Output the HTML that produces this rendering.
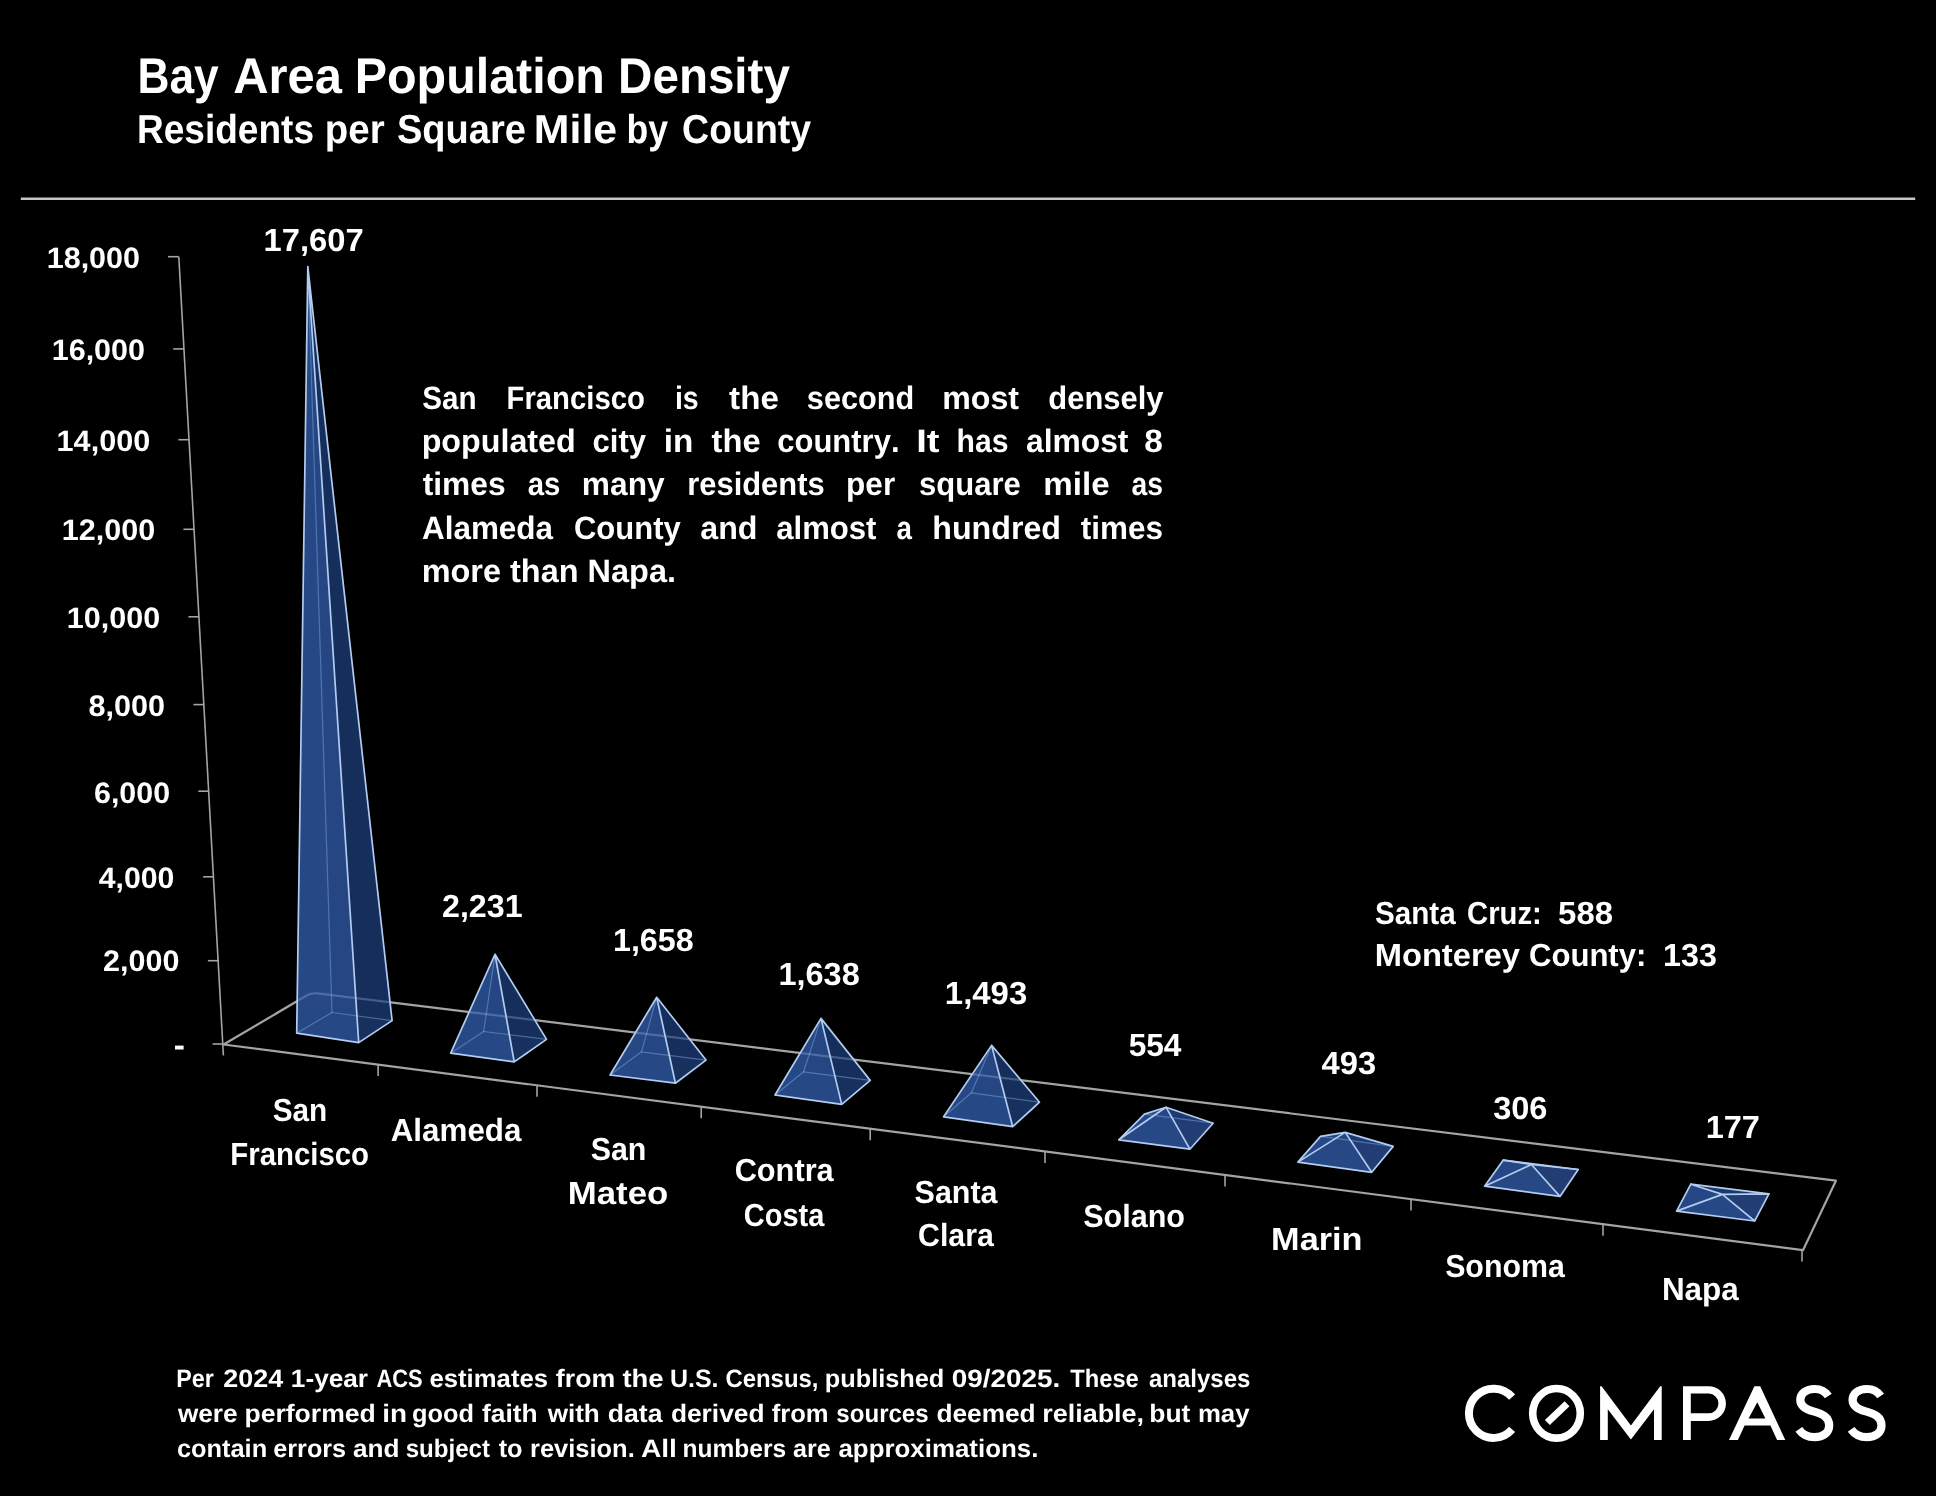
<!DOCTYPE html>
<html><head><meta charset="utf-8"><title>Bay Area Population Density</title>
<style>
html,body{margin:0;padding:0;background:#000;}
body{width:1936px;height:1496px;overflow:hidden;}
svg{display:block;}
text{font-family:"Liberation Sans",sans-serif;font-weight:bold;font-kerning:none;text-rendering:geometricPrecision;}
</style></head><body>
<svg width="1936" height="1496" viewBox="0 0 1936 1496">
<defs><filter id="soft" x="0" y="0" width="1936" height="1496" filterUnits="userSpaceOnUse"><feGaussianBlur stdDeviation="0.55"/></filter></defs>
<rect width="1936" height="1496" fill="#000"/>
<g filter="url(#soft)">
<text transform="translate(137.54,93.00) scale(0.8853,1)" font-size="50" fill="#fff">Bay</text>
<text transform="translate(233.18,93.00) scale(0.9777,1)" font-size="50" fill="#fff">Area</text>
<text transform="translate(354.76,93.00) scale(0.9680,1)" font-size="50" fill="#fff">Population</text>
<text transform="translate(618.12,93.00) scale(0.9508,1)" font-size="50" fill="#fff">Density</text>
<text transform="translate(137.02,143.20) scale(0.9144,1)" font-size="40.5" fill="#fff">Residents</text>
<text transform="translate(324.77,143.20) scale(0.9491,1)" font-size="40.5" fill="#fff">per</text>
<text transform="translate(396.90,143.20) scale(0.9395,1)" font-size="40.5" fill="#fff">Square</text>
<text transform="translate(533.83,143.20) scale(1.0580,1)" font-size="40.5" fill="#fff">Mile</text>
<text transform="translate(626.45,143.20) scale(0.8789,1)" font-size="40.5" fill="#fff">by</text>
<text transform="translate(682.06,143.20) scale(0.9259,1)" font-size="40.5" fill="#fff">County</text>
<line x1="20.8" y1="198.8" x2="1915.2" y2="198.8" stroke="#c6c6c6" stroke-width="2.4"/>
<line x1="178.8" y1="256.7" x2="223.4" y2="1055.5" stroke="#a4a4a4" stroke-width="1.6"/>
<line x1="168.0" y1="256.7" x2="178.8" y2="256.7" stroke="#a4a4a4" stroke-width="1.6"/>
<line x1="173.2" y1="348.9" x2="184.0" y2="348.9" stroke="#a4a4a4" stroke-width="1.6"/>
<line x1="178.4" y1="439.7" x2="189.2" y2="439.7" stroke="#a4a4a4" stroke-width="1.6"/>
<line x1="183.4" y1="529.3" x2="194.2" y2="529.3" stroke="#a4a4a4" stroke-width="1.6"/>
<line x1="188.4" y1="616.8" x2="199.2" y2="616.8" stroke="#a4a4a4" stroke-width="1.6"/>
<line x1="193.4" y1="704.6" x2="204.2" y2="704.6" stroke="#a4a4a4" stroke-width="1.6"/>
<line x1="198.3" y1="791.2" x2="209.1" y2="791.2" stroke="#a4a4a4" stroke-width="1.6"/>
<line x1="203.1" y1="876.8" x2="213.9" y2="876.8" stroke="#a4a4a4" stroke-width="1.6"/>
<line x1="207.9" y1="960.7" x2="218.7" y2="960.7" stroke="#a4a4a4" stroke-width="1.6"/>
<line x1="212.6" y1="1044.0" x2="223.4" y2="1044.0" stroke="#a4a4a4" stroke-width="1.6"/>
<text transform="translate(46.68,268.30) scale(1.0314,1)" font-size="29.6" fill="#fff">18,000</text>
<text transform="translate(51.68,360.10) scale(1.0314,1)" font-size="29.6" fill="#fff">16,000</text>
<text transform="translate(56.57,450.80) scale(1.0348,1)" font-size="29.6" fill="#fff">14,000</text>
<text transform="translate(61.77,540.10) scale(1.0325,1)" font-size="29.6" fill="#fff">12,000</text>
<text transform="translate(66.78,627.70) scale(1.0314,1)" font-size="29.6" fill="#fff">10,000</text>
<text transform="translate(88.53,715.70) scale(1.0345,1)" font-size="29.6" fill="#fff">8,000</text>
<text transform="translate(93.99,802.80) scale(1.0268,1)" font-size="29.6" fill="#fff">6,000</text>
<text transform="translate(98.74,887.70) scale(1.0220,1)" font-size="29.6" fill="#fff">4,000</text>
<text transform="translate(103.04,971.40) scale(1.0302,1)" font-size="29.6" fill="#fff">2,000</text>
<rect x="175" y="1045.6" width="8.6" height="3.9" fill="#fff"/>
<path d="M223.6,1044.5 L1803.0,1250.2 L1835.9,1180.7 L317.6,993.4000000000001 Q311.6,992.7 307.1,995.3000000000001 Z" fill="none" stroke="#a4a4a4" stroke-width="2.2" stroke-linejoin="round"/>
<line x1="378.1" y1="1064.6" x2="378.1" y2="1076.1" stroke="#a4a4a4" stroke-width="1.6"/>
<line x1="537.0" y1="1085.3" x2="537.0" y2="1096.8" stroke="#a4a4a4" stroke-width="1.6"/>
<line x1="701.2" y1="1106.7" x2="701.2" y2="1118.2" stroke="#a4a4a4" stroke-width="1.6"/>
<line x1="870.2" y1="1128.7" x2="870.2" y2="1140.2" stroke="#a4a4a4" stroke-width="1.6"/>
<line x1="1045.0" y1="1151.5" x2="1045.0" y2="1163.0" stroke="#a4a4a4" stroke-width="1.6"/>
<line x1="1225.0" y1="1174.9" x2="1225.0" y2="1186.4" stroke="#a4a4a4" stroke-width="1.6"/>
<line x1="1411.0" y1="1199.1" x2="1411.0" y2="1210.6" stroke="#a4a4a4" stroke-width="1.6"/>
<line x1="1603.0" y1="1224.2" x2="1603.0" y2="1235.7" stroke="#a4a4a4" stroke-width="1.6"/>
<line x1="1802.0" y1="1250.1" x2="1802.0" y2="1261.6" stroke="#a4a4a4" stroke-width="1.6"/>
<g stroke-linejoin="round" stroke-linecap="round">
<polygon points="296.7,1033.2 358.7,1042.6 392.1,1020.6 332.0,1012.5" fill="#23437c" stroke="none" stroke-width="1" fill-opacity="0.95"/>
<polygon points="307.8,266.7 332.0,1012.5 392.1,1020.6" fill="#1c386c" stroke="none" stroke-width="1" fill-opacity="0.9"/>
<polygon points="307.8,266.7 332.0,1012.5 296.7,1033.2" fill="#26488a" stroke="none" stroke-width="1" fill-opacity="0.9"/>
<polygon points="307.8,266.7 358.7,1042.6 392.1,1020.6" fill="#172d5a" stroke="none" stroke-width="1" fill-opacity="0.88"/>
<polygon points="307.8,266.7 296.7,1033.2 358.7,1042.6" fill="#274987" stroke="none" stroke-width="1" fill-opacity="0.88"/>
<line x1="332.0" y1="1012.5" x2="392.1" y2="1020.6" stroke="#7aa6e4" stroke-width="1.2" stroke-opacity="0.5"/>
<line x1="332.0" y1="1012.5" x2="296.7" y2="1033.2" stroke="#7aa6e4" stroke-width="1.2" stroke-opacity="0.5"/>
<line x1="307.8" y1="266.7" x2="332.0" y2="1012.5" stroke="#7aa6e4" stroke-width="1.2" stroke-opacity="0.5"/>
<path d="M296.7,1033.2 L358.7,1042.6 L392.1,1020.6 L307.8,266.7 L296.7,1033.2 M307.8,266.7 L358.7,1042.6" fill="none" stroke="#b2ccef" stroke-width="1.7"/>
</g>
<g stroke-linejoin="round" stroke-linecap="round">
<polygon points="450.7,1053.2 514.2,1061.9 546.5,1039.4 483.7,1031.5" fill="#23437c" stroke="none" stroke-width="1" fill-opacity="0.95"/>
<polygon points="495.0,954.3 483.7,1031.5 546.5,1039.4" fill="#1c386c" stroke="none" stroke-width="1" fill-opacity="0.9"/>
<polygon points="495.0,954.3 483.7,1031.5 450.7,1053.2" fill="#26488a" stroke="none" stroke-width="1" fill-opacity="0.9"/>
<polygon points="495.0,954.3 514.2,1061.9 546.5,1039.4" fill="#172d5a" stroke="none" stroke-width="1" fill-opacity="0.88"/>
<polygon points="495.0,954.3 450.7,1053.2 514.2,1061.9" fill="#274987" stroke="none" stroke-width="1" fill-opacity="0.88"/>
<line x1="483.7" y1="1031.5" x2="546.5" y2="1039.4" stroke="#7aa6e4" stroke-width="1.2" stroke-opacity="0.5"/>
<line x1="483.7" y1="1031.5" x2="450.7" y2="1053.2" stroke="#7aa6e4" stroke-width="1.2" stroke-opacity="0.5"/>
<line x1="495.0" y1="954.3" x2="483.7" y2="1031.5" stroke="#7aa6e4" stroke-width="1.2" stroke-opacity="0.5"/>
<path d="M450.7,1053.2 L514.2,1061.9 L546.5,1039.4 L495.0,954.3 L450.7,1053.2 M495.0,954.3 L514.2,1061.9" fill="none" stroke="#b2ccef" stroke-width="1.7"/>
</g>
<g stroke-linejoin="round" stroke-linecap="round">
<polygon points="610.1,1075.0 675.4,1083.2 706.0,1060.1 641.5,1051.8" fill="#23437c" stroke="none" stroke-width="1" fill-opacity="0.95"/>
<polygon points="656.7,997.3 641.5,1051.8 706.0,1060.1" fill="#1c386c" stroke="none" stroke-width="1" fill-opacity="0.9"/>
<polygon points="656.7,997.3 641.5,1051.8 610.1,1075.0" fill="#26488a" stroke="none" stroke-width="1" fill-opacity="0.9"/>
<polygon points="656.7,997.3 675.4,1083.2 706.0,1060.1" fill="#172d5a" stroke="none" stroke-width="1" fill-opacity="0.88"/>
<polygon points="656.7,997.3 610.1,1075.0 675.4,1083.2" fill="#274987" stroke="none" stroke-width="1" fill-opacity="0.88"/>
<line x1="641.5" y1="1051.8" x2="706.0" y2="1060.1" stroke="#7aa6e4" stroke-width="1.2" stroke-opacity="0.5"/>
<line x1="641.5" y1="1051.8" x2="610.1" y2="1075.0" stroke="#7aa6e4" stroke-width="1.2" stroke-opacity="0.5"/>
<line x1="656.7" y1="997.3" x2="641.5" y2="1051.8" stroke="#7aa6e4" stroke-width="1.2" stroke-opacity="0.5"/>
<path d="M610.1,1075.0 L675.4,1083.2 L706.0,1060.1 L656.7,997.3 L610.1,1075.0 M656.7,997.3 L675.4,1083.2" fill="none" stroke="#b2ccef" stroke-width="1.7"/>
</g>
<g stroke-linejoin="round" stroke-linecap="round">
<polygon points="775.0,1095.0 841.7,1104.4 870.2,1080.4 803.6,1071.8" fill="#23437c" stroke="none" stroke-width="1" fill-opacity="0.95"/>
<polygon points="821.0,1018.4 803.6,1071.8 870.2,1080.4" fill="#1c386c" stroke="none" stroke-width="1" fill-opacity="0.9"/>
<polygon points="821.0,1018.4 803.6,1071.8 775.0,1095.0" fill="#26488a" stroke="none" stroke-width="1" fill-opacity="0.9"/>
<polygon points="821.0,1018.4 841.7,1104.4 870.2,1080.4" fill="#172d5a" stroke="none" stroke-width="1" fill-opacity="0.88"/>
<polygon points="821.0,1018.4 775.0,1095.0 841.7,1104.4" fill="#274987" stroke="none" stroke-width="1" fill-opacity="0.88"/>
<line x1="803.6" y1="1071.8" x2="870.2" y2="1080.4" stroke="#7aa6e4" stroke-width="1.2" stroke-opacity="0.5"/>
<line x1="803.6" y1="1071.8" x2="775.0" y2="1095.0" stroke="#7aa6e4" stroke-width="1.2" stroke-opacity="0.5"/>
<line x1="821.0" y1="1018.4" x2="803.6" y2="1071.8" stroke="#7aa6e4" stroke-width="1.2" stroke-opacity="0.5"/>
<path d="M775.0,1095.0 L841.7,1104.4 L870.2,1080.4 L821.0,1018.4 L775.0,1095.0 M821.0,1018.4 L841.7,1104.4" fill="none" stroke="#b2ccef" stroke-width="1.7"/>
</g>
<g stroke-linejoin="round" stroke-linecap="round">
<polygon points="943.6,1116.8 1012.7,1126.7 1039.5,1102.2 971.4,1092.8" fill="#23437c" stroke="none" stroke-width="1" fill-opacity="0.95"/>
<polygon points="991.6,1045.4 971.4,1092.8 1039.5,1102.2" fill="#1c386c" stroke="none" stroke-width="1" fill-opacity="0.9"/>
<polygon points="991.6,1045.4 971.4,1092.8 943.6,1116.8" fill="#26488a" stroke="none" stroke-width="1" fill-opacity="0.9"/>
<polygon points="991.6,1045.4 1012.7,1126.7 1039.5,1102.2" fill="#172d5a" stroke="none" stroke-width="1" fill-opacity="0.88"/>
<polygon points="991.6,1045.4 943.6,1116.8 1012.7,1126.7" fill="#274987" stroke="none" stroke-width="1" fill-opacity="0.88"/>
<line x1="971.4" y1="1092.8" x2="1039.5" y2="1102.2" stroke="#7aa6e4" stroke-width="1.2" stroke-opacity="0.5"/>
<line x1="971.4" y1="1092.8" x2="943.6" y2="1116.8" stroke="#7aa6e4" stroke-width="1.2" stroke-opacity="0.5"/>
<line x1="991.6" y1="1045.4" x2="971.4" y2="1092.8" stroke="#7aa6e4" stroke-width="1.2" stroke-opacity="0.5"/>
<path d="M943.6,1116.8 L1012.7,1126.7 L1039.5,1102.2 L991.6,1045.4 L943.6,1116.8 M991.6,1045.4 L1012.7,1126.7" fill="none" stroke="#b2ccef" stroke-width="1.7"/>
</g>
<g stroke-linejoin="round" stroke-linecap="round">
<polygon points="1118.8,1139.8 1189.9,1149.2 1213.1,1123.2 1144.5,1114.1" fill="#23437c" stroke="none" stroke-width="1" fill-opacity="0.95"/>
<polygon points="1166.0,1107.2 1144.5,1114.1 1213.1,1123.2" fill="#1c386c" stroke="none" stroke-width="1" fill-opacity="0.9"/>
<polygon points="1166.0,1107.2 1144.5,1114.1 1118.8,1139.8" fill="#26488a" stroke="none" stroke-width="1" fill-opacity="0.9"/>
<polygon points="1166.0,1107.2 1189.9,1149.2 1213.1,1123.2" fill="#1f3c74" stroke="none" stroke-width="1" fill-opacity="0.88"/>
<polygon points="1166.0,1107.2 1118.8,1139.8 1189.9,1149.2" fill="#274987" stroke="none" stroke-width="1" fill-opacity="0.88"/>
<line x1="1144.5" y1="1114.1" x2="1213.1" y2="1123.2" stroke="#7aa6e4" stroke-width="1.2" stroke-opacity="0.5"/>
<path d="M1118.8,1139.8 L1189.9,1149.2 L1213.1,1123.2 L1166.0,1107.2 L1118.8,1139.8 M1166.0,1107.2 L1189.9,1149.2 M1118.8,1139.8 L1144.5,1114.1 L1166.0,1107.2" fill="none" stroke="#b2ccef" stroke-width="1.7"/>
</g>
<g stroke-linejoin="round" stroke-linecap="round">
<polygon points="1297.9,1162.1 1371.7,1172.3 1393.2,1146.4 1320.5,1136.4" fill="#23437c" stroke="none" stroke-width="1" fill-opacity="0.95"/>
<polygon points="1345.2,1132.4 1320.5,1136.4 1393.2,1146.4" fill="#1c386c" stroke="none" stroke-width="1" fill-opacity="0.9"/>
<polygon points="1345.2,1132.4 1320.5,1136.4 1297.9,1162.1" fill="#26488a" stroke="none" stroke-width="1" fill-opacity="0.9"/>
<polygon points="1345.2,1132.4 1371.7,1172.3 1393.2,1146.4" fill="#1f3c74" stroke="none" stroke-width="1" fill-opacity="0.88"/>
<polygon points="1345.2,1132.4 1297.9,1162.1 1371.7,1172.3" fill="#274987" stroke="none" stroke-width="1" fill-opacity="0.88"/>
<line x1="1320.5" y1="1136.4" x2="1393.2" y2="1146.4" stroke="#7aa6e4" stroke-width="1.2" stroke-opacity="0.5"/>
<path d="M1297.9,1162.1 L1371.7,1172.3 L1393.2,1146.4 L1345.2,1132.4 L1297.9,1162.1 M1345.2,1132.4 L1371.7,1172.3 M1297.9,1162.1 L1320.5,1136.4 L1345.2,1132.4" fill="none" stroke="#b2ccef" stroke-width="1.7"/>
</g>
<g stroke-linejoin="round" stroke-linecap="round">
<polygon points="1484.6,1186.2 1560.0,1196.4 1578.2,1169.5 1503.3,1160.1" fill="#23437c" stroke="none" stroke-width="1" fill-opacity="0.95"/>
<polygon points="1531.4,1164.5 1503.3,1160.1 1578.2,1169.5" fill="#1c386c" stroke="none" stroke-width="1" fill-opacity="0.9"/>
<polygon points="1531.4,1164.5 1503.3,1160.1 1484.6,1186.2" fill="#26488a" stroke="none" stroke-width="1" fill-opacity="0.9"/>
<polygon points="1531.4,1164.5 1560.0,1196.4 1578.2,1169.5" fill="#1f3c74" stroke="none" stroke-width="1" fill-opacity="0.88"/>
<polygon points="1531.4,1164.5 1484.6,1186.2 1560.0,1196.4" fill="#274987" stroke="none" stroke-width="1" fill-opacity="0.88"/>
<line x1="1503.3" y1="1160.1" x2="1578.2" y2="1169.5" stroke="#b2ccef" stroke-width="1.7"/>
<path d="M1484.6,1186.2 L1560.0,1196.4 L1578.2,1169.5 L1531.4,1164.5 L1484.6,1186.2 M1531.4,1164.5 L1560.0,1196.4 M1484.6,1186.2 L1503.3,1160.1 L1531.4,1164.5" fill="none" stroke="#b2ccef" stroke-width="1.7"/>
</g>
<g stroke-linejoin="round" stroke-linecap="round">
<polygon points="1676.6,1211.1 1754.7,1221.0 1768.9,1193.8 1690.8,1184.2" fill="#23437c" stroke="none" stroke-width="1" fill-opacity="0.95"/>
<polygon points="1722.4,1194.4 1690.8,1184.2 1768.9,1193.8" fill="#1c386c" stroke="none" stroke-width="1" fill-opacity="0.9"/>
<polygon points="1722.4,1194.4 1690.8,1184.2 1676.6,1211.1" fill="#26488a" stroke="none" stroke-width="1" fill-opacity="0.9"/>
<polygon points="1722.4,1194.4 1754.7,1221.0 1768.9,1193.8" fill="#1f3c74" stroke="none" stroke-width="1" fill-opacity="0.88"/>
<polygon points="1722.4,1194.4 1676.6,1211.1 1754.7,1221.0" fill="#274987" stroke="none" stroke-width="1" fill-opacity="0.88"/>
<line x1="1690.8" y1="1184.2" x2="1768.9" y2="1193.8" stroke="#b2ccef" stroke-width="1.7"/>
<path d="M1676.6,1211.1 L1754.7,1221.0 L1768.9,1193.8 L1722.4,1194.4 L1676.6,1211.1 M1722.4,1194.4 L1754.7,1221.0 M1676.6,1211.1 L1690.8,1184.2 L1722.4,1194.4" fill="none" stroke="#b2ccef" stroke-width="1.7"/>
</g>
<clipPath id="pyr"><polygon points="307.8,266.7 296.7,1033.2 358.7,1042.6 392.1,1020.6"/><polygon points="495.0,954.3 450.7,1053.2 514.2,1061.9 546.5,1039.4"/><polygon points="656.7,997.3 610.1,1075.0 675.4,1083.2 706.0,1060.1"/><polygon points="821.0,1018.4 775.0,1095.0 841.7,1104.4 870.2,1080.4"/><polygon points="991.6,1045.4 943.6,1116.8 1012.7,1126.7 1039.5,1102.2"/><polygon points="1166.0,1107.2 1118.8,1139.8 1189.9,1149.2 1213.1,1123.2"/><polygon points="1345.2,1132.4 1297.9,1162.1 1371.7,1172.3 1393.2,1146.4"/><polygon points="1531.4,1164.5 1484.6,1186.2 1560.0,1196.4 1578.2,1169.5"/><polygon points="1722.4,1194.4 1676.6,1211.1 1754.7,1221.0 1768.9,1193.8"/></clipPath>
<path d="M223.6,1044.5 L1803.0,1250.2 L1835.9,1180.7 L317.6,993.4000000000001 Q311.6,992.7 307.1,995.3000000000001 Z" fill="none" stroke="#a9c0e4" stroke-width="2.2" stroke-opacity="0.30" stroke-linejoin="round" clip-path="url(#pyr)"/>
<text transform="translate(263.54,251.40) scale(1.0238,1)" font-size="32" fill="#fff">17,607</text>
<text transform="translate(441.98,916.60) scale(1.0067,1)" font-size="32" fill="#fff">2,231</text>
<text transform="translate(612.97,951.30) scale(1.0081,1)" font-size="32" fill="#fff">1,658</text>
<text transform="translate(778.46,984.90) scale(1.0146,1)" font-size="32" fill="#fff">1,638</text>
<text transform="translate(944.83,1004.00) scale(1.0285,1)" font-size="32" fill="#fff">1,493</text>
<text transform="translate(1128.63,1055.50) scale(0.9879,1)" font-size="32" fill="#fff">554</text>
<text transform="translate(1321.60,1073.60) scale(1.0222,1)" font-size="32" fill="#fff">493</text>
<text transform="translate(1493.15,1118.80) scale(1.0175,1)" font-size="32" fill="#fff">306</text>
<text transform="translate(1705.65,1138.30) scale(1.0166,1)" font-size="32" fill="#fff">177</text>
<text transform="translate(272.74,1120.50) scale(0.9286,1)" font-size="32" fill="#fff">San</text>
<text transform="translate(230.34,1164.60) scale(0.9176,1)" font-size="32" fill="#fff">Francisco</text>
<text transform="translate(390.72,1140.80) scale(0.9797,1)" font-size="32" fill="#fff">Alameda</text>
<text transform="translate(590.73,1159.50) scale(0.9483,1)" font-size="32" fill="#fff">San</text>
<text transform="translate(567.77,1203.80) scale(1.0869,1)" font-size="32" fill="#fff">Mateo</text>
<text transform="translate(734.64,1181.30) scale(0.9608,1)" font-size="32" fill="#fff">Contra</text>
<text transform="translate(743.81,1225.60) scale(0.9066,1)" font-size="32" fill="#fff">Costa</text>
<text transform="translate(914.62,1202.60) scale(0.9511,1)" font-size="32" fill="#fff">Santa</text>
<text transform="translate(918.06,1246.40) scale(0.9463,1)" font-size="32" fill="#fff">Clara</text>
<text transform="translate(1083.22,1227.40) scale(0.9541,1)" font-size="32" fill="#fff">Solano</text>
<text transform="translate(1271.11,1250.00) scale(1.0699,1)" font-size="32" fill="#fff">Marin</text>
<text transform="translate(1445.13,1277.00) scale(0.9481,1)" font-size="32" fill="#fff">Sonoma</text>
<text transform="translate(1661.90,1299.60) scale(0.9828,1)" font-size="32" fill="#fff">Napa</text>
<text transform="translate(422.25,409.20) scale(0.9154,1)" font-size="32.4" fill="#fff">San</text>
<text transform="translate(506.54,409.20) scale(0.9042,1)" font-size="32.4" fill="#fff">Francisco</text>
<text transform="translate(674.91,409.20) scale(0.8792,1)" font-size="32.4" fill="#fff">is</text>
<text transform="translate(729.10,409.20) scale(1.0234,1)" font-size="32.4" fill="#fff">the</text>
<text transform="translate(806.82,409.20) scale(0.9468,1)" font-size="32.4" fill="#fff">second</text>
<text transform="translate(942.18,409.20) scale(0.9923,1)" font-size="32.4" fill="#fff">most</text>
<text transform="translate(1048.33,409.20) scale(0.9542,1)" font-size="32.4" fill="#fff">densely</text>
<text transform="translate(421.67,451.90) scale(0.9953,1)" font-size="32.4" fill="#fff">populated</text>
<text transform="translate(592.59,451.90) scale(0.9579,1)" font-size="32.4" fill="#fff">city</text>
<text transform="translate(663.78,451.90) scale(1.0277,1)" font-size="32.4" fill="#fff">in</text>
<text transform="translate(711.60,451.90) scale(1.0086,1)" font-size="32.4" fill="#fff">the</text>
<text transform="translate(777.29,451.90) scale(0.9564,1)" font-size="32.4" fill="#fff">country.</text>
<text transform="translate(916.25,451.90) scale(1.1783,1)" font-size="32.4" fill="#fff">It</text>
<text transform="translate(956.60,451.90) scale(0.9303,1)" font-size="32.4" fill="#fff">has</text>
<text transform="translate(1025.97,451.90) scale(0.9817,1)" font-size="32.4" fill="#fff">almost</text>
<text transform="translate(1144.24,451.90) scale(1.0316,1)" font-size="32.4" fill="#fff">8</text>
<text transform="translate(422.71,495.30) scale(0.9793,1)" font-size="32.4" fill="#fff">times</text>
<text transform="translate(527.64,495.30) scale(0.9064,1)" font-size="32.4" fill="#fff">as</text>
<text transform="translate(581.81,495.30) scale(0.9790,1)" font-size="32.4" fill="#fff">many</text>
<text transform="translate(687.26,495.30) scale(0.9538,1)" font-size="32.4" fill="#fff">residents</text>
<text transform="translate(846.12,495.30) scale(0.9729,1)" font-size="32.4" fill="#fff">per</text>
<text transform="translate(919.01,495.30) scale(0.9577,1)" font-size="32.4" fill="#fff">square</text>
<text transform="translate(1043.32,495.30) scale(1.0229,1)" font-size="32.4" fill="#fff">mile</text>
<text transform="translate(1131.47,495.30) scale(0.8738,1)" font-size="32.4" fill="#fff">as</text>
<text transform="translate(421.92,538.70) scale(0.9713,1)" font-size="32.4" fill="#fff">Alameda</text>
<text transform="translate(573.93,538.70) scale(0.9575,1)" font-size="32.4" fill="#fff">County</text>
<text transform="translate(700.26,538.70) scale(0.9942,1)" font-size="32.4" fill="#fff">and</text>
<text transform="translate(776.19,538.70) scale(0.9604,1)" font-size="32.4" fill="#fff">almost</text>
<text transform="translate(896.59,538.70) scale(0.8567,1)" font-size="32.4" fill="#fff">a</text>
<text transform="translate(932.25,538.70) scale(0.9937,1)" font-size="32.4" fill="#fff">hundred</text>
<text transform="translate(1080.82,538.70) scale(0.9721,1)" font-size="32.4" fill="#fff">times</text>
<text transform="translate(421.66,581.50) scale(1.0021,1)" font-size="32.4" fill="#fff">more than Napa.</text>
<text transform="translate(1374.95,924.40) scale(0.9257,1)" font-size="32" fill="#fff">Santa</text>
<text transform="translate(1467.00,924.40) scale(0.9150,1)" font-size="32" fill="#fff">Cruz:</text>
<text transform="translate(1558.09,924.40) scale(1.0287,1)" font-size="32" fill="#fff">588</text>
<text transform="translate(1374.71,966.40) scale(1.0212,1)" font-size="32" fill="#fff">Monterey</text>
<text transform="translate(1528.92,966.40) scale(0.9719,1)" font-size="32" fill="#fff">County:</text>
<text transform="translate(1663.07,966.40) scale(1.0076,1)" font-size="32" fill="#fff">133</text>
<text transform="translate(176.34,1387.00) scale(0.9232,1)" font-size="25.2" fill="#fff">Per</text>
<text transform="translate(223.27,1387.00) scale(1.0681,1)" font-size="25.2" fill="#fff">2024</text>
<text transform="translate(290.85,1387.00) scale(1.0403,1)" font-size="25.2" fill="#fff">1-year</text>
<text transform="translate(376.46,1387.00) scale(0.8683,1)" font-size="25.2" fill="#fff">ACS</text>
<text transform="translate(429.50,1387.00) scale(1.0197,1)" font-size="25.2" fill="#fff">estimates</text>
<text transform="translate(555.84,1387.00) scale(1.0610,1)" font-size="25.2" fill="#fff">from</text>
<text transform="translate(622.46,1387.00) scale(1.0892,1)" font-size="25.2" fill="#fff">the</text>
<text transform="translate(669.90,1387.00) scale(0.9921,1)" font-size="25.2" fill="#fff">U.S.</text>
<text transform="translate(725.42,1387.00) scale(0.9495,1)" font-size="25.2" fill="#fff">Census,</text>
<text transform="translate(824.73,1387.00) scale(1.0054,1)" font-size="25.2" fill="#fff">published</text>
<text transform="translate(951.80,1387.00) scale(1.1063,1)" font-size="25.2" fill="#fff">09/2025.</text>
<text transform="translate(1070.33,1387.00) scale(0.9402,1)" font-size="25.2" fill="#fff">These</text>
<text transform="translate(1148.90,1387.00) scale(0.9531,1)" font-size="25.2" fill="#fff">analyses</text>
<text transform="translate(177.98,1421.70) scale(1.0379,1)" font-size="25.2" fill="#fff">were</text>
<text transform="translate(244.45,1421.70) scale(1.0544,1)" font-size="25.2" fill="#fff">performed</text>
<text transform="translate(382.25,1421.70) scale(1.1063,1)" font-size="25.2" fill="#fff">in</text>
<text transform="translate(412.06,1421.70) scale(1.0072,1)" font-size="25.2" fill="#fff">good</text>
<text transform="translate(482.05,1421.70) scale(1.0449,1)" font-size="25.2" fill="#fff">faith</text>
<text transform="translate(547.68,1421.70) scale(1.0348,1)" font-size="25.2" fill="#fff">with</text>
<text transform="translate(607.81,1421.70) scale(1.0561,1)" font-size="25.2" fill="#fff">data</text>
<text transform="translate(670.92,1421.70) scale(1.0443,1)" font-size="25.2" fill="#fff">derived</text>
<text transform="translate(771.66,1421.70) scale(1.0166,1)" font-size="25.2" fill="#fff">from</text>
<text transform="translate(836.35,1421.70) scale(0.9553,1)" font-size="25.2" fill="#fff">sources</text>
<text transform="translate(936.42,1421.70) scale(1.0417,1)" font-size="25.2" fill="#fff">deemed</text>
<text transform="translate(1042.22,1421.70) scale(1.0696,1)" font-size="25.2" fill="#fff">reliable,</text>
<text transform="translate(1149.25,1421.70) scale(1.0508,1)" font-size="25.2" fill="#fff">but</text>
<text transform="translate(1197.90,1421.70) scale(1.0238,1)" font-size="25.2" fill="#fff">may</text>
<text transform="translate(176.91,1456.50) scale(1.0074,1)" font-size="25.2" fill="#fff">contain</text>
<text transform="translate(273.32,1456.50) scale(0.9996,1)" font-size="25.2" fill="#fff">errors</text>
<text transform="translate(353.03,1456.50) scale(1.0377,1)" font-size="25.2" fill="#fff">and</text>
<text transform="translate(405.65,1456.50) scale(0.9571,1)" font-size="25.2" fill="#fff">subject</text>
<text transform="translate(498.69,1456.50) scale(1.0048,1)" font-size="25.2" fill="#fff">to</text>
<text transform="translate(530.02,1456.50) scale(1.0105,1)" font-size="25.2" fill="#fff">revision.</text>
<text transform="translate(640.90,1456.50) scale(1.1178,1)" font-size="25.2" fill="#fff">All</text>
<text transform="translate(682.58,1456.50) scale(0.9727,1)" font-size="25.2" fill="#fff">numbers</text>
<text transform="translate(793.06,1456.50) scale(0.9962,1)" font-size="25.2" fill="#fff">are</text>
<text transform="translate(838.44,1456.50) scale(1.0278,1)" font-size="25.2" fill="#fff">approximations.</text>

<g fill="#fff" stroke="none">
<path d="M1600.1,1439.9 L1600.1,1386.2 L1601.6,1386.2 L1630.9,1425.6 L1660.2,1386.2 L1661.7,1386.2 L1661.7,1439.9 L1654,1439.9 L1654,1409.3 L1630.9,1439.6 L1607.8,1409.3 L1607.8,1439.9 Z"/>
<path fill-rule="evenodd" d="M1683,1439.9 L1683,1386.2 L1708.6,1386.2 A17.35,17.35 0 0 1 1708.6,1420.9 L1690.8,1420.9 L1690.8,1439.9 Z M1690.8,1393.6 L1690.8,1413.3 L1708.6,1413.3 A9.85,9.85 0 0 0 1708.6,1393.6 Z"/>
<path fill-rule="evenodd" d="M1729,1439.9 L1754.4,1386.2 L1760.2,1386.2 L1785.3,1439.9 L1777.1,1439.9 L1770.4,1425.6 L1744.6,1425.6 L1737.9,1439.9 Z M1757.3,1402.3 L1765.4,1418.6 L1748.6,1418.6 Z"/>
<polygon points="1544.9,1420.0 1564.6,1401.2 1569.5,1406.3 1549.8,1425.1"/>
</g>
<g fill="none" stroke="#fff">
<path stroke-width="8" d="M1512.1,1397.2 A24.6,24.6 0 1 0 1512.1,1429.4"/>
<ellipse cx="1556.5" cy="1413.3" rx="23.8" ry="24.8" stroke-width="7.6"/>
<path stroke-width="8.2" d="M1828.3,1396.0 C1825.3,1391.4 1821,1389 1814.6,1389 C1806.2,1389 1800.3,1393.6 1800.3,1400 C1800.3,1406.6 1805.6,1409.3 1813.4,1411.4 C1822.6,1413.9 1829.2,1417.2 1829.2,1425.4 C1829.2,1432.6 1823,1437.2 1814.6,1437.2 C1807.4,1437.2 1802.2,1434.2 1798.8,1429.4"/>
<path stroke-width="8.2" transform="translate(52.3,0)" d="M1828.3,1396.0 C1825.3,1391.4 1821,1389 1814.6,1389 C1806.2,1389 1800.3,1393.6 1800.3,1400 C1800.3,1406.6 1805.6,1409.3 1813.4,1411.4 C1822.6,1413.9 1829.2,1417.2 1829.2,1425.4 C1829.2,1432.6 1823,1437.2 1814.6,1437.2 C1807.4,1437.2 1802.2,1434.2 1798.8,1429.4"/>
</g>

</g>
</svg>
</body></html>
